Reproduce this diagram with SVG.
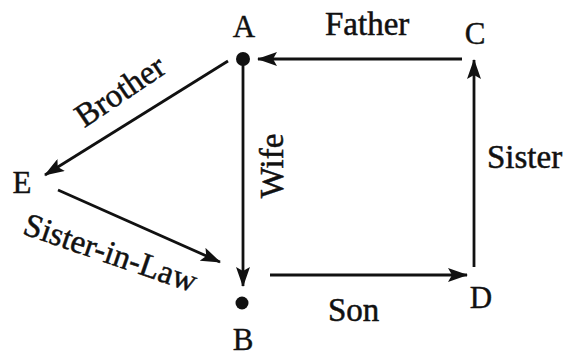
<svg xmlns="http://www.w3.org/2000/svg" width="569" height="356" viewBox="0 0 569 356">
<style>
  .lbl { font-family: "Liberation Serif", "Times New Roman", serif; font-size: 33px; fill: #111; stroke: #111; stroke-width: 0.5; }
  .node { font-family: "Liberation Serif", "Times New Roman", serif; font-size: 31px; fill: #111; stroke: #111; stroke-width: 0.4; }
  .edge { stroke: #111; stroke-width: 2.8; fill: none; }
  .dot { fill: #111; }
</style>
<defs>
  <marker id="arr" viewBox="0 0 20 14" refX="19" refY="7" markerWidth="20" markerHeight="14" markerUnits="userSpaceOnUse" orient="auto">
    <path d="M0,0 L20,7 L0,14 L4,7 z" fill="#111"/>
  </marker>
</defs>
<rect width="569" height="356" fill="#fff"/>

<g id="connectors">
  <line class="edge" x1="462" y1="59" x2="258" y2="59" marker-end="url(#arr)"/>
  <line class="edge" x1="474" y1="267" x2="474" y2="60" marker-end="url(#arr)"/>
  <line class="edge" x1="243" y1="62" x2="243" y2="286" marker-end="url(#arr)"/>
  <line class="edge" x1="228" y1="61" x2="45" y2="175" marker-end="url(#arr)"/>
  <line class="edge" x1="58" y1="190" x2="220" y2="262" marker-end="url(#arr)"/>
  <line class="edge" x1="270" y1="275" x2="467" y2="275" marker-end="url(#arr)"/>
  <text class="lbl" x="325" y="35">Father</text>
  <text class="lbl" x="487" y="168">Sister</text>
  <text class="lbl" x="328" y="321">Son</text>
  <text class="lbl" text-anchor="middle" transform="translate(283,166) rotate(-90)">Wife</text>
  <text class="lbl" text-anchor="middle" transform="translate(126,100) rotate(-34)">Brother</text>
  <text class="lbl" text-anchor="middle" transform="translate(107,263) rotate(19)">Sister-in-Law</text>
</g>

<g id="node-A">
  <circle class="dot" cx="243" cy="59" r="7"/>
  <text class="node" x="244" y="37" text-anchor="middle">A</text>
</g>
<g id="node-B">
  <circle class="dot" cx="242" cy="303" r="6.5"/>
  <text class="node" x="243" y="350" text-anchor="middle">B</text>
</g>
<g id="node-C">
  <text class="node" x="475" y="44" text-anchor="middle">C</text>
</g>
<g id="node-D">
  <text class="node" x="481" y="308" text-anchor="middle">D</text>
</g>
<g id="node-E">
  <text class="node" x="22" y="193" text-anchor="middle">E</text>
</g>
</svg>
